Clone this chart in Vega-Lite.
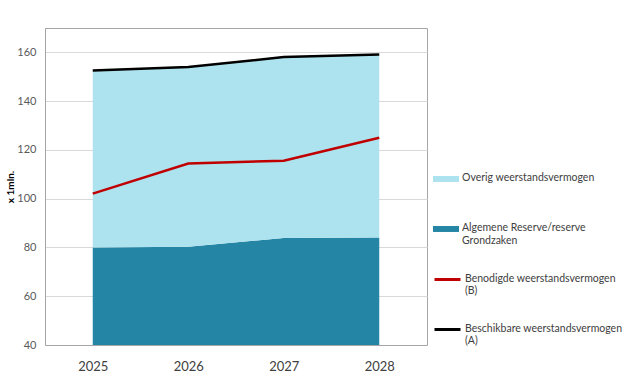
{
  "$schema": "https://vega.github.io/schema/vega-lite/v6.json",
  "autosize": {"type": "none"},
  "width": 382,
  "height": 317,
  "padding": {"left": 45, "top": 28, "right": 212, "bottom": 33},
  "background": "white",
  "config": {
    "font": "Lato",
    "view": {"stroke": "#A6A6A6", "strokeWidth": 1},
    "axis": {"labelFont": "Lato", "titleFont": "Lato"},
    "legend": {"labelFont": "Lato"}
  },
  "datasets": {
    "areas": [
      {"year": "2025", "series": "Algemene Reserve/reserve|Grondzaken", "value": 80.0},
      {"year": "2026", "series": "Algemene Reserve/reserve|Grondzaken", "value": 80.3},
      {"year": "2027", "series": "Algemene Reserve/reserve|Grondzaken", "value": 83.9},
      {"year": "2028", "series": "Algemene Reserve/reserve|Grondzaken", "value": 84.1},
      {"year": "2025", "series": "Overig weerstandsvermogen", "value": 72.4},
      {"year": "2026", "series": "Overig weerstandsvermogen", "value": 73.6},
      {"year": "2027", "series": "Overig weerstandsvermogen", "value": 74.1},
      {"year": "2028", "series": "Overig weerstandsvermogen", "value": 74.9}
    ],
    "lines": [
      {"year": "2025", "series": "Benodigde weerstandsvermogen|(B)", "value": 102.1},
      {"year": "2026", "series": "Benodigde weerstandsvermogen|(B)", "value": 114.4},
      {"year": "2027", "series": "Benodigde weerstandsvermogen|(B)", "value": 115.6},
      {"year": "2028", "series": "Benodigde weerstandsvermogen|(B)", "value": 125.0},
      {"year": "2025", "series": "Beschikbare weerstandsvermogen|(A)", "value": 152.6},
      {"year": "2026", "series": "Beschikbare weerstandsvermogen|(A)", "value": 154.0},
      {"year": "2027", "series": "Beschikbare weerstandsvermogen|(A)", "value": 158.1},
      {"year": "2028", "series": "Beschikbare weerstandsvermogen|(A)", "value": 159.1}
    ]
  },
  "encoding": {
    "x": {
      "field": "year", "type": "ordinal",
      "scale": {"type": "point", "padding": 0.5},
      "axis": {
        "title": null, "labelAngle": 0, "ticks": false, "grid": false,
        "domainColor": "#A6A6A6", "labelFontSize": 13, "labelColor": "#404040",
        "labelPadding": 15
      }
    },
    "y": {
      "field": "value", "type": "quantitative",
      "scale": {"domain": [40, 170], "zero": false, "nice": false},
      "axis": {
        "title": "x 1mln.", "titleFontSize": 10, "titleFontWeight": "bold", "titleColor": "#000000",
        "titlePadding": 1,
        "values": [40, 60, 80, 100, 120, 140, 160],
        "ticks": false, "labelFontSize": 11, "labelColor": "#595959", "labelPadding": 9,
        "gridColor": "#D9D9D9", "gridWidth": 1, "domainColor": "#A6A6A6"
      }
    }
  },
  "layer": [
    {
      "data": {"name": "areas"},
      "mark": {"type": "area", "clip": true, "opacity": 1},
      "encoding": {
        "y": {"field": "value", "type": "quantitative", "stack": "zero"},
        "order": {"field": "series", "sort": "ascending"},
        "fill": {
          "field": "series", "type": "nominal",
          "scale": {
            "domain": ["Overig weerstandsvermogen", "Algemene Reserve/reserve|Grondzaken"],
            "range": ["#ADE3EE", "#2585A5"]
          },
          "legend": {
            "title": null, "orient": "none", "legendX": 388, "legendY": 132,
            "symbolType": "M-1,0.23H1V0.69H-1Z", "symbolSize": 676, "symbolStrokeWidth": 0,
            "labelFontSize": 10.5, "labelColor": "#404040", "rowPadding": 26, "labelLimit": 250,
            "labelExpr": "split(datum.label, '|')", "labelOffset": 3, "labelBaseline": "top"
          }
        }
      }
    },
    {
      "data": {"name": "lines"},
      "mark": {"type": "line", "strokeWidth": 2.5},
      "encoding": {
        "stroke": {
          "field": "series", "type": "nominal",
          "scale": {
            "domain": ["Benodigde weerstandsvermogen|(B)", "Beschikbare weerstandsvermogen|(A)"],
            "range": ["#C00000", "#000000"]
          },
          "legend": {
            "title": null, "orient": "none", "legendX": 388, "legendY": 231,
            "symbolType": "M-1,0.46H1", "symbolSize": 676, "symbolStrokeWidth": 3,
            "labelFontSize": 10.5, "labelColor": "#404040", "rowPadding": 12, "labelLimit": 250,
            "labelExpr": "split(datum.label, '|')", "labelOffset": 3, "labelBaseline": "top"
          }
        }
      }
    }
  ]
}
